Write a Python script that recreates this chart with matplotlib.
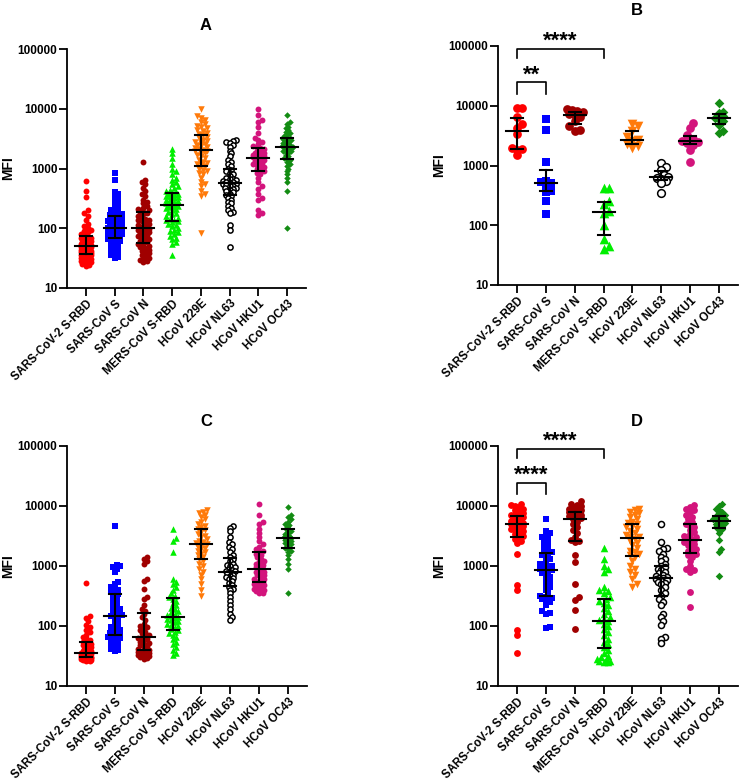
import numpy as np
import matplotlib
matplotlib.use('Agg')
import matplotlib.pyplot as plt

plt.rcParams['font.family'] = ['Liberation Sans', 'DejaVu Sans']
plt.rcParams['font.weight'] = 'bold'

cats = ['SARS-CoV-2 S-RBD', 'SARS-CoV S', 'SARS-CoV N', 'MERS-CoV S-RBD',
        'HCoV 229E', 'HCoV NL63', 'HCoV HKU1', 'HCoV OC43']

# ---- panel A ----
A_cov2_rbd = [625, 420, 330, 200, 180, 160, 140, 120, 110, 100, 95, 90, 85, 80, 76, 72, 70, 68, 66, 64,
              62, 60, 58, 56, 55, 54, 53, 52, 51, 50, 50, 49, 48, 47, 46, 45, 45, 44, 43, 42, 42, 41, 40,
              39, 38, 37, 36, 35, 34, 33, 32, 31, 30, 29, 28, 27, 26, 25, 24, 23]
A_cov_s = [850, 650, 400, 380, 350, 320, 300, 280, 260, 240, 220, 200, 190, 180, 170, 165, 160, 155,
           150, 145, 140, 135, 130, 125, 120, 118, 115, 112, 110, 108, 105, 102, 100, 98, 96, 94, 92,
           90, 88, 86, 84, 82, 80, 78, 76, 74, 72, 70, 68, 65, 62, 60, 58, 55, 52, 50, 48, 45, 42, 40,
           38, 35, 33, 32]
A_cov_n = [1270, 650, 600, 550, 480, 420, 380, 340, 300, 280, 260, 240, 220, 210, 200, 190, 185, 180,
           170, 160, 150, 145, 140, 135, 130, 125, 120, 115, 110, 106, 103, 100, 98, 95, 92, 90, 87, 84,
           80, 77, 74, 71, 68, 65, 62, 60, 58, 55, 52, 50, 48, 46, 44, 42, 40, 38, 36, 34, 32, 30, 29,
           28, 27]
A_mers = [2100, 1800, 1500, 1200, 1000, 900, 800, 700, 650, 600, 550, 500, 470, 440, 420, 400, 390,
          380, 370, 360, 350, 340, 330, 320, 310, 300, 290, 280, 270, 260, 250, 245, 240, 235, 230, 225,
          220, 210, 200, 190, 180, 170, 160, 150, 145, 140, 135, 130, 125, 120, 115, 110, 100, 95, 90,
          85, 80, 75, 70, 65, 60, 55, 35]
A_229e = [9800, 7500, 7000, 6500, 6000, 5500, 5200, 5000, 4700, 4400, 4200, 4000, 3800, 3600, 3400,
          3200, 3000, 2900, 2800, 2700, 2600, 2500, 2400, 2300, 2200, 2100, 2050, 2000, 1950, 1900,
          1800, 1700, 1600, 1500, 1400, 1300, 1250, 1200, 1150, 1100, 1000, 950, 900, 850, 800, 700,
          600, 550, 500, 420, 380, 350, 82]
A_nl63 = [3000, 2900, 2800, 2700, 2500, 2300, 2000, 1800, 1600, 1400, 1300, 1200, 1100, 1000, 950,
          900, 850, 800, 750, 700, 680, 660, 650, 620, 600, 590, 580, 560, 540, 520, 510, 500, 480, 470,
          460, 440, 420, 400, 380, 360, 340, 320, 300, 280, 260, 240, 220, 200, 190, 180, 115, 92, 48]
A_hku1 = [10000, 8000, 6500, 6000, 5000, 4000, 3200, 3000, 2800, 2600, 2400, 2300, 2200, 2100, 2000,
          1900, 1800, 1800, 1750, 1700, 1700, 1650, 1600, 1600, 1550, 1500, 1450, 1400, 1350, 1300,
          1250, 1200, 1150, 1100, 1050, 1000, 950, 900, 850, 800, 700, 600, 500, 450, 380, 320, 300,
          200, 180, 165]
A_oc43 = [7800, 6000, 5500, 5000, 4700, 4400, 4100, 3900, 3700, 3500, 3300, 3200, 3100, 3000, 2900,
          2800, 2700, 2600, 2500, 2400, 2350, 2300, 2250, 2200, 2100, 2000, 1950, 1900, 1800, 1700,
          1600, 1500, 1450, 1400, 1300, 1200, 1100, 1000, 900, 800, 700, 600, 415, 100]

# ---- panel B ----
B_cov2_rbd = [9000, 9000, 6500, 5000, 4200, 3400, 2000, 1900, 1850, 1500]
B_cov_s = [6100, 4000, 1150, 560, 520, 500, 470, 380, 360, 250, 155]
B_cov_n = [8800, 8500, 8200, 7800, 7400, 7000, 6500, 5500, 4500, 4000, 3800]
B_mers = [420, 420, 250, 230, 170, 160, 100, 60, 45, 40]
B_229e = [5000, 4500, 3800, 3000, 2700, 2600, 2300, 2100, 2000]
B_nl63 = [1100, 950, 850, 700, 650, 620, 600, 550, 500, 350]
B_hku1 = [5200, 4300, 3200, 2800, 2600, 2500, 2400, 2200, 1800, 1150]
B_oc43 = [11000, 8000, 7500, 6800, 6300, 6000, 5500, 4800, 3800, 3500]

# ---- panel C ----
C_cov2_rbd = [525, 145, 135, 120, 105, 95, 85, 78, 72, 66, 62, 58, 55, 52, 50, 48, 46, 44, 42, 40,
              39, 38, 37, 36, 35, 35, 34, 34, 33, 33, 32, 32, 32, 31, 31, 31, 30, 30, 30, 30, 29, 29,
              29, 28, 28, 28, 27, 27, 27, 26, 26]
C_cov_s = [4600, 1050, 1000, 950, 900, 800, 550, 500, 450, 420, 400, 380, 360, 340, 320, 300, 280,
           260, 240, 220, 200, 190, 180, 170, 160, 155, 150, 145, 140, 130, 120, 110, 100, 95, 90, 85,
           80, 78, 75, 72, 70, 68, 65, 62, 60, 58, 55, 52, 50, 48, 45, 42, 40, 38]
C_cov_n = [1400, 1300, 1200, 1100, 600, 560, 420, 300, 280, 220, 190, 180, 160, 140, 125, 110, 100,
           95, 90, 85, 80, 75, 72, 68, 65, 62, 60, 58, 55, 52, 50, 48, 46, 44, 42, 40, 39, 38, 37, 36,
           35, 34, 33, 32, 31, 30, 29, 28]
C_mers = [4100, 2900, 2600, 1700, 600, 550, 500, 450, 400, 350, 320, 300, 280, 260, 240, 220, 200,
          190, 180, 170, 160, 150, 145, 140, 135, 130, 125, 120, 115, 110, 105, 100, 95, 90, 85, 80,
          75, 70, 65, 60, 55, 50, 45, 40, 35, 33]
C_229e = [8500, 8000, 7500, 7000, 6500, 6000, 5500, 5000, 4700, 4500, 4200, 4000, 3700, 3400, 3200,
          3000, 2800, 2600, 2500, 2400, 2300, 2200, 2100, 2000, 1900, 1800, 1700, 1600, 1500, 1400,
          1300, 1200, 1100, 1000, 900, 800, 700, 600, 500, 400, 320]
C_nl63 = [4600, 4300, 3800, 3000, 2500, 2300, 2100, 1900, 1700, 1500, 1400, 1300, 1200, 1100, 1050,
          1000, 950, 900, 870, 840, 810, 780, 750, 720, 690, 660, 630, 600, 560, 520, 480, 450, 420,
          400, 350, 300, 260, 220, 190, 160, 140, 125]
C_hku1 = [11000, 7000, 5500, 5000, 4200, 3500, 3000, 2600, 2300, 2100, 1900, 1800, 1700, 1600, 1500,
          1400, 1300, 1200, 1150, 1100, 1050, 1000, 950, 900, 850, 800, 750, 700, 650, 600, 570, 540,
          510, 480, 450, 420, 400, 380, 360, 350, 380, 400, 450, 500, 550, 600, 700, 800]
C_oc43 = [9600, 7000, 6500, 6000, 5500, 5000, 4800, 4500, 4200, 4000, 3800, 3600, 3400, 3200, 3100,
          3000, 2900, 2800, 2700, 2600, 2500, 2400, 2300, 2200, 2000, 1900, 1800, 1700, 1500, 1300,
          1100, 900, 350]

# ---- panel D ----
D_cov2_rbd = [11000, 10500, 10000, 9500, 9000, 8500, 8000, 7500, 7200, 7000, 6800, 6500, 6200, 6000,
              5800, 5600, 5400, 5300, 5200, 5000, 4800, 4600, 4400, 4200, 4000, 3800, 3600, 3400, 3200,
              3000, 2800, 2600, 2400, 1600, 480, 400, 85, 70, 36]
D_cov_s = [6000, 3800, 3500, 3200, 3000, 2800, 2600, 2400, 2200, 2000, 1800, 1700, 1600, 1500, 1400,
           1300, 1200, 1100, 1050, 1000, 950, 900, 880, 850, 800, 750, 700, 650, 600, 550, 500, 450,
           400, 350, 320, 310, 300, 290, 280, 260, 250, 220, 180, 165, 160, 95, 92]
D_cov_n = [12000, 11000, 10500, 10000, 9500, 9000, 8800, 8500, 8000, 7800, 7500, 7200, 7000, 6800,
           6500, 6200, 6000, 5500, 5000, 4500, 4000, 3500, 3000, 2700, 2600, 2500, 1550, 1150, 510, 300,
           270, 185, 90]
D_mers = [2000, 1300, 1000, 900, 800, 450, 400, 380, 350, 300, 280, 260, 240, 220, 200, 180, 160, 140,
          130, 125, 120, 110, 100, 90, 80, 70, 60, 55, 50, 45, 40, 35, 32, 30, 28, 27, 26, 26, 25, 25]
D_229e = [9000, 8500, 8000, 7500, 7000, 6500, 6000, 5500, 5200, 5000, 4700, 4400, 4100, 3800, 3500,
          3300, 3100, 3000, 2800, 2600, 2400, 2200, 2000, 1800, 1700, 1600, 1500, 1400, 1200, 1000,
          900, 800, 700, 600, 500, 450]
D_nl63 = [5000, 2500, 2000, 1900, 1800, 1600, 1400, 1300, 1200, 1100, 1000, 950, 900, 850, 800, 750,
          700, 680, 660, 640, 620, 600, 580, 560, 540, 520, 500, 450, 400, 350, 320, 280, 250, 220, 160,
          140, 120, 105, 65, 60, 52]
D_hku1 = [10500, 9500, 9000, 8500, 8000, 7000, 6500, 6000, 5500, 5000, 4700, 4400, 4000, 3700, 3400,
          3200, 3000, 2900, 2800, 2700, 2600, 2500, 2300, 2200, 2000, 1900, 1800, 1700, 1600, 1500,
          1400, 1200, 1000, 900, 850, 800, 370, 210]
D_oc43 = [11000, 10000, 9000, 8500, 8000, 7500, 7000, 6800, 6500, 6300, 6100, 6000, 5800, 5600, 5400,
          5200, 5000, 4800, 4600, 4400, 4200, 4000, 3500, 2700, 1900, 1700, 680]

panels = {
    'A': [A_cov2_rbd, A_cov_s, A_cov_n, A_mers, A_229e, A_nl63, A_hku1, A_oc43],
    'B': [B_cov2_rbd, B_cov_s, B_cov_n, B_mers, B_229e, B_nl63, B_hku1, B_oc43],
    'C': [C_cov2_rbd, C_cov_s, C_cov_n, C_mers, C_229e, C_nl63, C_hku1, C_oc43],
    'D': [D_cov2_rbd, D_cov_s, D_cov_n, D_mers, D_229e, D_nl63, D_hku1, D_oc43],
}

colors = ['#ff0000', '#0000ff', '#a00000', '#00ee00', '#ff7a0a', 'black', '#d3147c', '#138c13']
markers = ['o', 's', 'o', '^', 'v', 'o', 'o', 'D']
msize = [18, 17, 18, 22, 22, 14, 18, 11]
mscale = {'A': 1.0, 'B': 2.2, 'C': 1.0, 'D': 1.35}
maxhalf = {'A': 7, 'B': 9, 'C': 7, 'D': 7}

W, H = 739, 784
fig = plt.figure(figsize=(W / 100, H / 100), dpi=100)
# left, top, width, height in pixels
boxes = {'A': (67, 49, 239, 239), 'B': (498, 46, 240, 239),
         'C': (67, 446, 240, 240), 'D': (498, 446, 240, 240)}
title_y = {'A': 1.10, 'B': 1.15, 'C': 1.10, 'D': 1.10}


def swarm(ax, x0, vals, diam, maxhalf):
    pts = np.column_stack([np.full(len(vals), float(x0)), vals])
    ypx = ax.transData.transform(pts)[:, 1]
    order = np.argsort(ypx)
    step = diam * 0.5
    cands = [0.0]
    k = 1
    while k * step <= maxhalf:
        cands += [k * step, -k * step]
        k += 1
    placed = []
    off = np.zeros(len(vals))
    for i in order:
        y = ypx[i]
        best, bestd = 0.0, -1
        for c in cands:
            if placed:
                p = np.array(placed)
                dmin = np.min(np.hypot(p[:, 0] - c, p[:, 1] - y))
            else:
                dmin = np.inf
            if dmin >= diam:
                best = c
                break
            if dmin > bestd:
                bestd, best = dmin, c
        off[i] = best
        placed.append((best, y))
    pxcat = ax.transData.transform((1, 10))[0] - ax.transData.transform((0, 10))[0]
    return off / pxcat


for key, (l, t, w, h) in boxes.items():
    ax = fig.add_axes([l / W, 1 - (t + h) / H, w / W, h / H])
    ax.set_yscale('log')
    ax.set_ylim(10, 100000)
    ax.set_xlim(-0.66, 7.66)
    for s in ['top', 'right']:
        ax.spines[s].set_visible(False)
    for s in ['left', 'bottom']:
        ax.spines[s].set_linewidth(1.3)
    ax.set_yticks([10, 100, 1000, 10000, 100000])
    ax.set_yticklabels(['10', '100', '1000', '10000', '100000'])
    ax.minorticks_off()
    ax.set_xticks(range(8))
    ax.set_xticklabels(cats, rotation=45, ha='right', rotation_mode='anchor')
    ax.tick_params(axis='both', direction='out', length=5.5, width=1.3, labelsize=8.5, pad=1.5)
    ax.tick_params(axis='x', pad=1.5, labelsize=8.3)
    ax.set_ylabel('MFI', fontsize=10, fontweight='bold')
    ax.yaxis.set_label_coords(-0.215, 0.5)
    ax.text(0.58, title_y[key], key, transform=ax.transAxes, ha='center', va='center',
            fontsize=12, fontweight='bold')

    for i, vals in enumerate(panels[key]):
        vals = np.array(vals, dtype=float)
        sz = msize[i] * mscale[key]
        dpx = np.sqrt(sz) * 100 / 72
        xo = swarm(ax, i, vals, dpx * 0.6, maxhalf[key])
        if markers[i] == 'o' and colors[i] == 'black':
            ax.scatter(i + xo, vals, s=sz, marker='o', facecolors='white',
                       edgecolors='black', linewidths=1.1, zorder=2)
        else:
            ax.scatter(i + xo, vals, s=sz, marker=markers[i], color=colors[i],
                       linewidths=0, zorder=2)
        q1, med, q3 = np.percentile(vals, [25, 50, 75])
        ax.plot([i - 0.38, i + 0.38], [med, med], color='black', lw=1.5, zorder=3)
        ax.plot([i, i], [q1, q3], color='black', lw=1.5, zorder=3)
        for q in (q1, q3):
            ax.plot([i - 0.21, i + 0.21], [q, q], color='black', lw=1.5, zorder=3)

    if key in ('B', 'D'):
        ax.plot([0, 0, 3, 3], [62000, 88000, 88000, 62000], color='black', lw=1.2, clip_on=False)
        ax.text(1.5, 120000, '****', ha='center', va='center', fontsize=16, clip_on=False)
        ax.plot([0, 0, 1, 1], [16000, 24500, 24500, 16000], color='black', lw=1.2, clip_on=False)
        lab = '**' if key == 'B' else '****'
        ax.text(0.5, 33000, lab, ha='center', va='center', fontsize=16, clip_on=False)

fig.savefig('out.png', dpi=100)
